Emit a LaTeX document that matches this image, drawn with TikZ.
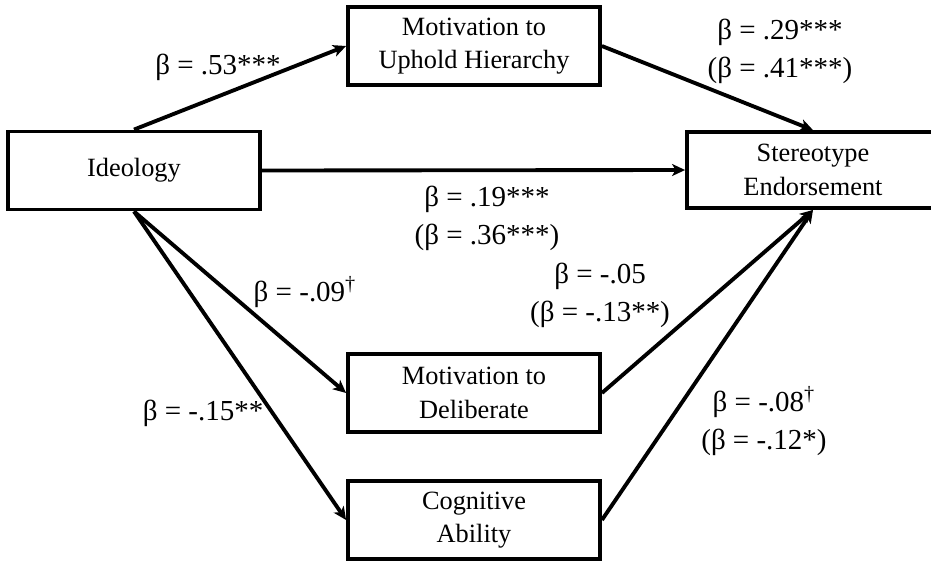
\documentclass[tikz,border=0pt]{standalone}
\usepackage{fontspec}
\setmainfont{Liberation Serif}
\usepackage{xcolor}
\usepackage{tikz}
\usetikzlibrary{calc,arrows.meta,positioning}
\tikzset{
  ar/.style={-{Stealth[length=2.6mm,width=2.4mm,inset=0.7mm]},line width=2.2pt,black},
  box/.style={draw=black,line width=2.2pt,align=center,inner sep=0pt,
    minimum width=5.04cm,minimum height=1.56cm,font=\fontsize{15}{19}\selectfont},
  lbl/.style={align=center,inner sep=0pt,font=\fontsize{16.5}{21.5}\selectfont}
}

\begin{document}
\begin{tikzpicture}[x=0.02cm,y=-0.02cm]
\clip (0,0) rectangle (931,562);
\fill[white] (0,0) rectangle (931,562);
% variables
\node[box] (ideo) at (134,170.5) {Ideology};
\node[box] (hier) at (474,46) {Motivation to\\Uphold Hierarchy};
\node[box,minimum height=1.52cm] (ster) at (813,170) {Stereotype\\Endorsement};
\node[box] (deli) at (474,393) {Motivation to\\Deliberate};
\node[box] (cogn) at (474,520) {Cognitive\\Ability};
% paths
\draw[ar] (ideo.north) -- (hier.west);
\draw[ar] (hier.east) -- (ster.north);
\draw[ar] (ideo.east) -- (ster.west);
\draw[ar] (ideo.south) -- (deli.west);
\draw[ar] (ideo.south) -- (cogn.west);
\draw[ar] (deli.east) -- (ster.south);
\draw[ar] (cogn.east) -- (ster.south);
% coefficients
\node[lbl] (b1) at (218,67) {β = .53***};
\node[lbl] (b2) at (780,51) {β = .29***\\(β = .41***)};
\node[lbl] (b3) at (487,218) {β = .19***\\(β = .36***)};
\node[lbl] (b4) at (305,292) {β = -.09\textsuperscript{†}};
\node[lbl] (b5) at (203,413) {β = -.15**};
\node[lbl] (b6) at (600,295) {β = -.05\\(β = -.13**)};
\node[lbl] (b7) at (764,421) {β = -.08\textsuperscript{†}\\(β = -.12*)};
\end{tikzpicture}
\end{document}
